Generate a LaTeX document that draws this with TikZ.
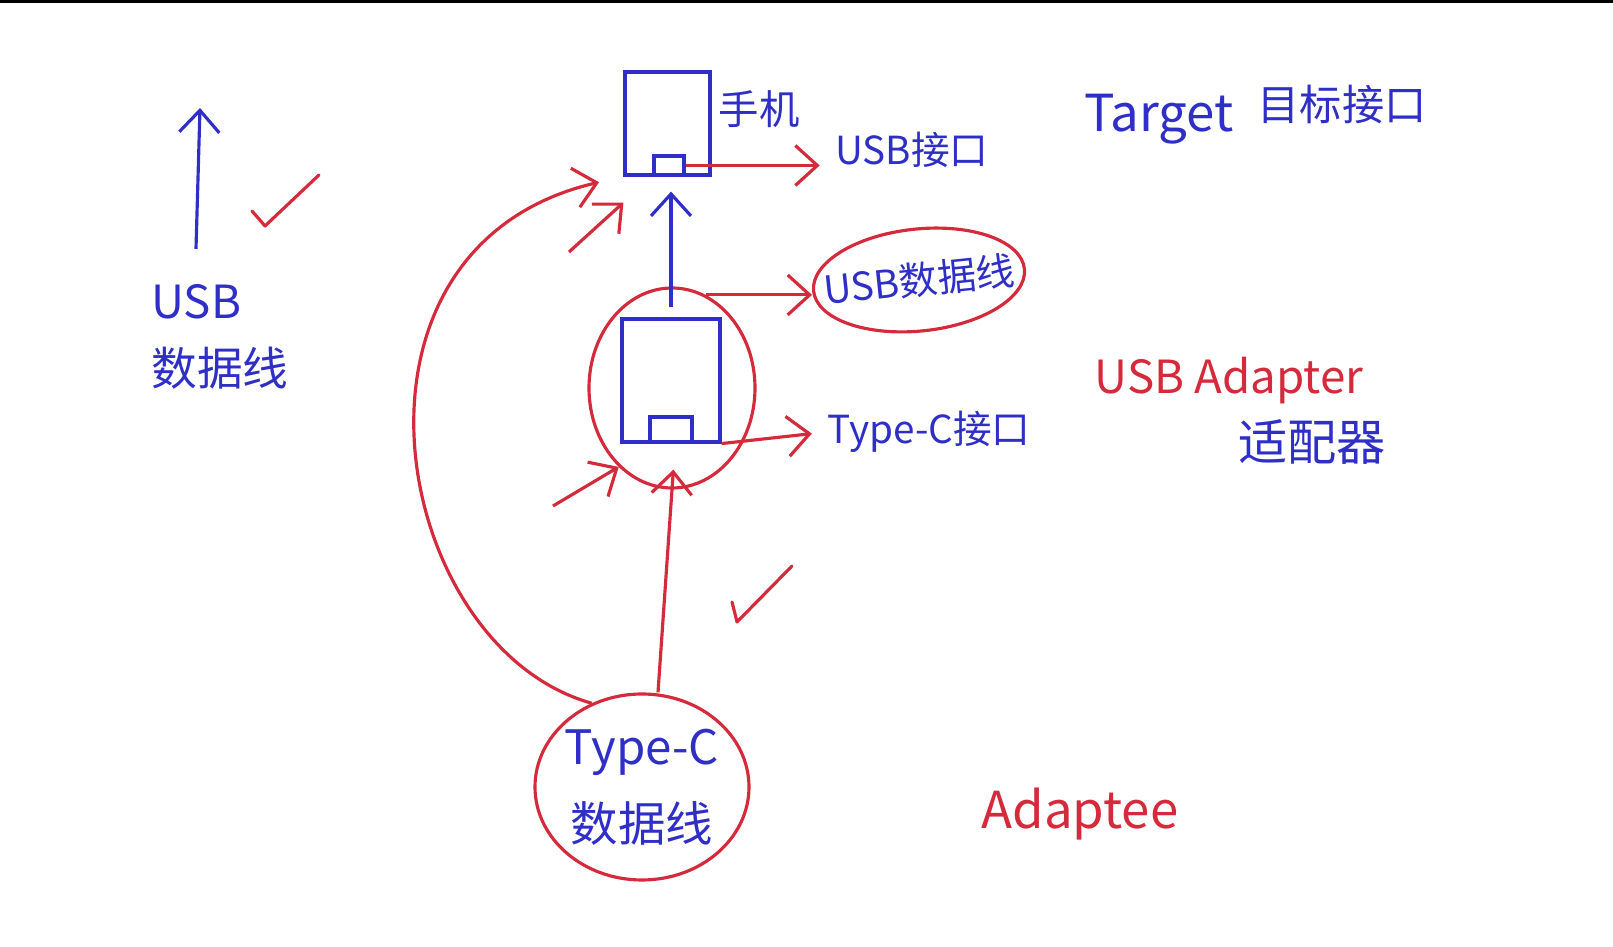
\documentclass[tikz,border=0pt]{standalone}
\usepackage{fontspec}
\setmainfont{Noto Sans CJK SC}
\usepackage{xcolor}
\usetikzlibrary{arrows.meta,calc,positioning,shapes.geometric}
\definecolor{penBlue}{HTML}{2F2FC8}
\definecolor{penRed}{HTML}{D42A3C}

\begin{document}
\begin{tikzpicture}[
  devbox/.style={rectangle, draw=penBlue, line width=0.9pt, inner sep=0pt},
  ring/.style={ellipse, draw=penRed, line width=0.9pt, inner sep=0pt, align=center},
  bluetext/.style={text=penBlue, inner sep=0pt, align=center},
  redtext/.style={text=penRed, inner sep=0pt, align=center},
  bluearrow/.style={-{Straight Barb[length=2.2mm,width=4mm]}, line width=0.9pt, draw=penBlue},
  redarrow/.style={-{Straight Barb[length=2.2mm,width=4mm]}, line width=0.9pt, draw=penRed},
  tick/.style={line width=0.9pt, draw=penRed, line cap=round, line join=round},
]
\useasboundingbox (0,0) rectangle (16.13,9.47);
\draw[line width=1pt] (0,9.455) -- (16.13,9.455);

\node[devbox, minimum width=8.5mm, minimum height=10.3mm] (phone) at (6.675,8.235) {};
\node[devbox, minimum width=3mm, minimum height=1.9mm] (phonePort) at (6.69,7.815) {};
\node[bluetext, font=\fontsize{11.5}{13}\selectfont] (phoneLabel) at (7.59,8.38) {手机};
\node[bluetext, font=\fontsize{11}{13}\selectfont] (usbPort) at (9.12,7.97) {USB接口};
\node[bluetext, font=\fontsize{14.5}{17}\selectfont] (target) at (11.59,8.28) {Target};
\node[bluetext, font=\fontsize{12}{14}\selectfont] (targetCn) at (13.42,8.42) {目标接口};

\node[ring, minimum width=16.6mm, minimum height=20mm] (adapterRing) at (6.72,5.59) {};
\node[devbox, minimum width=9.8mm, minimum height=12.3mm] (adapterBox) at (6.71,5.665) {};
\node[devbox, minimum width=4.2mm, minimum height=2.5mm] (adapterPort) at (6.71,5.175) {};
\node[ring, inner xsep=-7pt, minimum width=21.2mm, minimum height=10.2mm, rotate=6, text=penBlue, font=\fontsize{11}{13}\selectfont] (usbCable) at (9.19,6.67) {USB数据线};
\node[bluetext, font=\fontsize{11}{13}\selectfont] (typeCPort) at (9.29,5.15) {Type-C接口};
\node[redtext, font=\fontsize{13}{15}\selectfont] (adapterLabel) at (12.29,5.66) {USB Adapter};
\node[bluetext, font=\fontsize{14}{16}\selectfont] (adapterCn) at (13.12,5.05) {适配器};

\node[ring, inner xsep=-6pt, minimum width=21.4mm, minimum height=18.6mm, text=penBlue, font=\fontsize{13.5}{22}\selectfont] (typeCCable) at (6.42,1.60) {Type-C\\数据线};
\node[redtext, font=\fontsize{14.5}{17}\selectfont] (adaptee) at (10.80,1.33) {Adaptee};

\node[bluetext, align=left, font=\fontsize{13}{19}\selectfont] (leftCable) at (2.2,6.10) {USB\\数据线};
\coordinate (leftTip) at (2.00,8.39);
\coordinate (phoneFrom) at (5.69,6.95);
\coordinate (ringFrom) at (5.53,4.41);

\draw[redarrow, shorten >=1.5mm] (phonePort.east) -- (phonePort.east -| usbPort.west);
\draw[bluearrow, shorten >=1.5mm, shorten <=1mm] (adapterBox.north) -- (adapterBox.north |- phone.south);
\draw[redarrow] (adapterRing.70) -- (usbCable.west |- adapterRing.70);
\draw[redarrow, shorten >=1.5mm] (adapterBox.south east) -- (typeCPort.west);
\draw[redarrow, shorten >=-2mm] ([xshift=1.6mm]typeCCable.north) -- (adapterRing.south);
\draw[redarrow] (ringFrom) -- (adapterRing.236);
\draw[redarrow] (phoneFrom) -- ([yshift=-2.6mm]phone.south west);
\draw[redarrow, shorten >=2.5mm] (typeCCable.121) .. controls (3.9,3.0) and (3.2,7.0) .. (phone.south west);
\draw[bluearrow, shorten <=3.5mm] ([xshift=-2.5mm]leftCable.north) -- (leftTip);

\foreach \x/\y/\dx/\dy/\ex/\ey in {2.52/7.36/0.13/-0.15/0.54/0.51, 7.32/3.45/0.05/-0.20/0.55/0.56} {
  \draw[tick] (\x,\y) -- ++(\dx,\dy) -- ++(\ex,\ey);
}
\end{tikzpicture}
\end{document}
